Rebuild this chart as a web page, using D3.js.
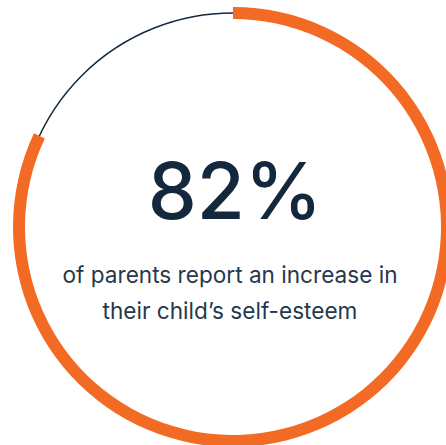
<!DOCTYPE html>
<html>
<head>
<meta charset="utf-8">
<script src="https://cdn.jsdelivr.net/npm/d3@7"></script>
<style>
  html, body { margin: 0; padding: 0; background: #fff; }
  svg { display: block; }
</style>
</head>
<body>
<svg id="chart"></svg>
<script>
const width = 446;
const height = 445;

// data
const stats = [82];
const statLabels = ["82%"];
const captionLines = ["of parents report an increase in", "their child\u2019s self-esteem"];

const orange = "#f26a24";
const navy = "#13283d";

const cx = 233;
const cy = 227;
const radius = 214;
const ringWidth = 12;

const svg = d3.select("#chart")
  .attr("width", width)
  .attr("height", height);

const angle = d3.scaleLinear()
  .domain([0, 100])
  .range([0, 2 * Math.PI]);

const g = svg.append("g")
  .attr("transform", `translate(${cx}, ${cy})`);

// thin track for the whole circle
g.append("circle")
  .attr("r", radius)
  .attr("fill", "none")
  .attr("stroke", navy)
  .attr("stroke-width", 1.5);

// progress arc
const arc = d3.arc()
  .innerRadius(radius - ringWidth / 2)
  .outerRadius(radius + ringWidth / 2)
  .startAngle(0);

g.selectAll("path.progress")
  .data(stats)
  .enter()
  .append("path")
  .attr("class", "progress")
  .attr("fill", orange)
  .attr("d", d => arc({ endAngle: angle(d) }));

// big number
g.append("text")
  .attr("x", 2)
  .attr("y", -8)
  .attr("text-anchor", "middle")
  .style("font-family", "Inter, 'Noto Sans', sans-serif")
  .style("font-size", "78px")
  .style("font-weight", 500)
  .style("fill", navy)
  .text(statLabels[0]);

// caption
g.append("text")
  .attr("text-anchor", "middle")
  .style("font-family", "Inter, 'Noto Sans', sans-serif")
  .style("font-size", "22.6px")
  .style("fill", "#26384b")
  .selectAll("tspan")
  .data(captionLines)
  .enter()
  .append("tspan")
  .attr("x", -3)
  .attr("y", (d, i) => 56 + i * 36)
  .text(d => d);
</script>
</body>
</html>
